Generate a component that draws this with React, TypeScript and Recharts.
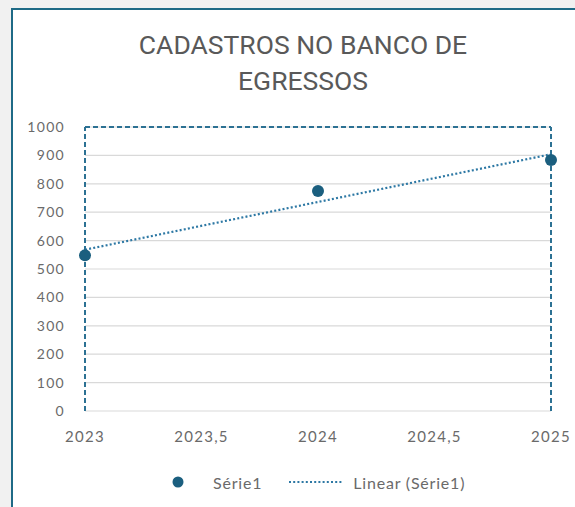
import { ComposedChart, Scatter, Line, XAxis, YAxis, CartesianGrid, ReferenceLine } from 'recharts'

const YEARS = [2023, 2024, 2025]
const CADASTROS = [548, 775, 884]
const TREND_YEARS = [2023, 2025]
const TREND_VALUES = [568, 904]
const X_TICKS = [2023, 2023.5, 2024, 2024.5, 2025]
const Y_TICKS = [0, 100, 200, 300, 400, 500, 600, 700, 800, 900, 1000]

const points = YEARS.map((year, i) => ({ year, value: CADASTROS[i] }))
const trend = TREND_YEARS.map((year, i) => ({ year, trend: TREND_VALUES[i] }))

const GRAY = '#595959'
const TICK_GRAY = '#6a6a6a'
const MARKER = '#1b5f7f'
const DASH = '#2c7193'
const tickFont = { fontFamily: 'Lato', fill: TICK_GRAY, letterSpacing: 1.3 }

export default function App() {
  return (
    <div style={{ position: 'fixed', left: 0, top: 0, width: 575, height: 507, overflow: 'hidden', background: '#f1f1f1' }}>
      <div style={{ position: 'absolute', left: 11, top: 8, width: 620, height: 540, border: '2px solid #1e6a86', background: '#fff' }} />
      <div style={{ position: 'absolute', left: 0, top: 27, width: 606, textAlign: 'center', fontFamily: 'Roboto', fontSize: 26.5, lineHeight: '36px', color: GRAY }}>
        CADASTROS NO BANCO DE<br />EGRESSOS
      </div>
      <div style={{ position: 'absolute', left: 0, top: 0 }}>
        <ComposedChart width={575} height={507} margin={{ top: 127, right: 24, bottom: 66, left: 0 }} style={{ overflow: 'visible' }}>
          <CartesianGrid vertical={false} stroke="#d9d9d9" strokeWidth={1.2} />
          <XAxis
            type="number"
            dataKey="year"
            domain={[2023, 2025]}
            ticks={X_TICKS}
            tickFormatter={(v: number) => String(v).replace('.', ',')}
            axisLine={false}
            tickLine={false}
            tickSize={0}
            tickMargin={20}
            height={30}
            tick={{ ...tickFont, fontSize: 15 }}
            allowDuplicatedCategory={false}
          />
          <YAxis
            type="number"
            domain={[0, 1000]}
            ticks={Y_TICKS}
            axisLine={false}
            tickLine={false}
            tickSize={0}
            tickMargin={20}
            width={85}
            tick={{ ...tickFont, fontSize: 14 }}
          />
          <ReferenceLine y={1000} stroke={DASH} strokeWidth={2} strokeDasharray="5 3" />
          <ReferenceLine x={2023} stroke={DASH} strokeWidth={2} strokeDasharray="5 3" />
          <ReferenceLine x={2025} stroke={DASH} strokeWidth={2} strokeDasharray="5 3" />
          <Line data={trend} dataKey="trend" stroke="#2d78a4" strokeWidth={2.2} strokeDasharray="2 2.2" dot={false} isAnimationActive={false} />
          <Scatter data={points} dataKey="value" fill={MARKER} shape={(p: any) => <circle cx={p.cx} cy={p.cy} r={6} fill={MARKER} />} isAnimationActive={false} />
        </ComposedChart>
      </div>
      <div style={{ position: 'absolute', left: 172, top: 470, height: 24, display: 'flex', alignItems: 'center', fontFamily: 'Lato', fontSize: 16, letterSpacing: 0.8, color: TICK_GRAY }}>
        <svg width={12} height={12}><circle cx={6} cy={6} r={5.5} fill={MARKER} /></svg>
        <span style={{ marginLeft: 29 }}>Série1</span>
        <svg width={54} height={4} style={{ marginLeft: 27 }}>
          <line x1={0} y1={2} x2={54} y2={2} stroke="#2d78a4" strokeWidth={2} strokeDasharray="2 2.2" />
        </svg>
        <span style={{ marginLeft: 10 }}>Linear (Série1)</span>
      </div>
    </div>
  )
}
